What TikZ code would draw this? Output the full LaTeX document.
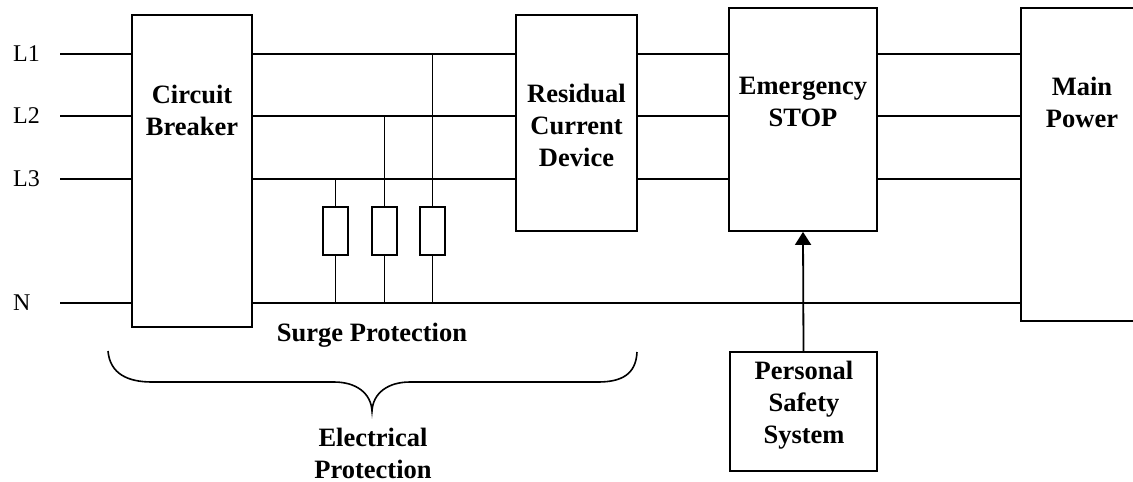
\documentclass[tikz,border=0pt]{standalone}
\usepackage{fontspec}
\setmainfont{Liberation Serif}
\usetikzlibrary{arrows.meta}
\tikzset{
  box/.style={draw, line width=1.8pt, rectangle, inner sep=0pt, fill=white},
  res/.style={draw, line width=1.8pt, rectangle, inner sep=0pt, minimum width=25pt, minimum height=48pt},
  wire/.style={line width=1.8pt},
  btxt/.style={inner sep=0pt, align=center, font=\fontsize{26.5}{32}\selectfont\bfseries},
  ltxt/.style={inner sep=0pt, anchor=west, font=\fontsize{24}{28}\selectfont},
}
\begin{document}
\begin{tikzpicture}[x=1pt,y=-1pt]
\useasboundingbox (0,0) rectangle (1133,482);
\clip (0,0) rectangle (1133,482);
% boxes
\node[box, minimum width=120pt, minimum height=312pt] (cb) at (192,171) {};
\node[box, minimum width=121pt, minimum height=216pt] (rcd) at (576.5,123) {};
\node[box, minimum width=148pt, minimum height=223pt] (es) at (803,119.5) {};
\node[box, minimum width=124pt, minimum height=313pt] (mp) at (1083,164.5) {};
\node[box, minimum width=147pt, minimum height=119pt] (pss) at (803.5,411.5) {};
\node[res] (r1) at (335.5,231) {};
\node[res] (r2) at (384.5,231) {};
\node[res] (r3) at (432.5,231) {};
% texts
\node[btxt] (cbt) at (192,110) {Circuit\\Breaker};
\node[btxt] (rcdt) at (576.5,125) {Residual\\Current\\Device};
\node[btxt] (est) at (803,102) {Emergency\\STOP};
\node[btxt] (mpt) at (1082,102) {Main\\Power};
\node[btxt] (psst) at (804,405) {Personal\\Safety\\System};
\node[btxt, anchor=base] (surge) at (372,341.5) {Surge Protection};
\node[btxt] (elec) at (373,453) {Electrical\\Protection};
% line labels and start points
\node[ltxt] (tl1) at (13,54) {L1};
\node[ltxt] (tl2) at (13,116) {L2};
\node[ltxt] (tl3) at (13,179) {L3};
\node[ltxt] (tn) at (13,303) {N};
\coordinate (l1) at (60,54);
\coordinate (l2) at (60,116);
\coordinate (l3) at (60,179);
\coordinate (n) at (60,303);
% phase wires
\foreach \w in {l1,l2,l3}{
  \draw[wire] (\w) -- (\w -| cb.west);
  \draw[wire] (\w -| cb.east) -- (\w -| rcd.west);
  \draw[wire] (\w -| rcd.east) -- (\w -| es.west);
  \draw[wire] (\w -| es.east) -- (\w -| mp.west);
}
% neutral
\draw[wire] (n) -- (n -| cb.west);
\draw[wire] (n -| cb.east) -- (n -| mp.west);
% surge arresters
\draw[wire] (r1.north) -- (r1.north |- l3);
\draw[wire] (r2.north) -- (r2.north |- l2);
\draw[wire] (r3.north) -- (r3.north |- l1);
\draw[wire] (r1.south) -- (r1.south |- n);
\draw[wire] (r2.south) -- (r2.south |- n);
\draw[wire] (r3.south) -- (r3.south |- n);
% arrow
\draw[wire, -{Triangle[length=13pt,width=16pt]}] (pss.north) -- (es.south);
% brace
\draw[line width=1.6pt] (108,351) .. controls (110,374) and (128,382) .. (152,382)
  -- (334,382) .. controls (356,382) and (371,393) .. (372,411)
  .. controls (373,393) and (388,382) .. (410,382)
  -- (598,382) .. controls (622,382) and (636,374) .. (637,352);
\end{tikzpicture}
\end{document}
